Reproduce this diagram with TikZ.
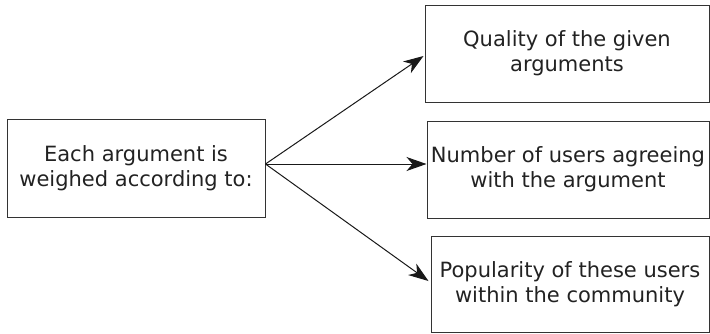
\documentclass[tikz,border=0pt]{standalone}
\usepackage{fontspec}
\setmainfont{DejaVu Sans}
\usetikzlibrary{arrows.meta,calc}
\definecolor{txt}{HTML}{222222}
\definecolor{edge}{HTML}{333333}
\tikzset{
  box/.style={draw=edge, line width=1pt, text=txt, align=center, inner sep=2pt,
    font=\fontsize{21}{25}\selectfont},
  link/.style={draw=black!90, line width=1pt, -{Stealth[length=20pt,width=14pt,inset=6pt]}}
}
\begin{document}
\begin{tikzpicture}[x=1pt,y=-1pt]
  \useasboundingbox (0,0) rectangle (710,333);
  \node[box, minimum width=258pt, minimum height=98pt] (src) at (136,168) {Each argument is\\weighed according to:};
  \node[box, minimum width=284pt, minimum height=97pt] (b1) at (567,53.5) {Quality of the given\\arguments};
  \node[box, minimum width=282pt, minimum height=97pt] (b2) at (568,169.5) {Number of users agreeing\\with the argument};
  \node[box, minimum width=278pt, minimum height=96pt] (b3) at (570,284) {Popularity of these users\\within the community};
  \coordinate (o) at ($(src.east)+(0,-4)$);
  \draw[link] (o) -- ($(b1.west)+(-1,2.5)$);
  \draw[link] (o) -- (b2.west |- o);
  \draw[link] (o) -- ($(b3.west)+(-2,-3)$);
\end{tikzpicture}
\end{document}
